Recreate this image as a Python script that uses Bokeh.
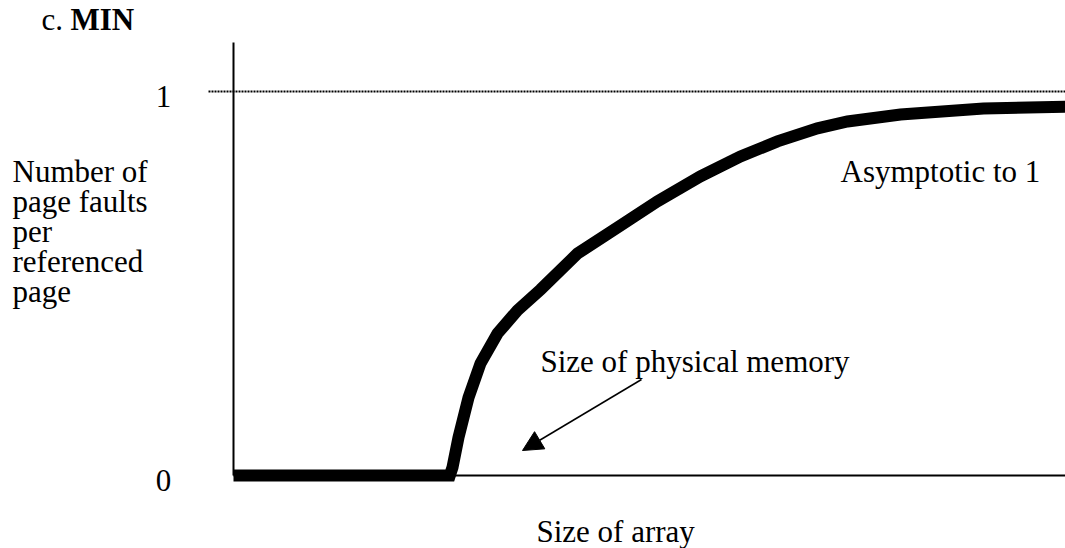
from bokeh.plotting import figure
from bokeh.models import Label, Arrow, NormalHead, Range1d
from bokeh.embed import file_html
from bokeh.resources import INLINE

# ---- data (arbitrary units: array size vs page faults per referenced page) ----
array_size = [0, 26.0, 26.32, 27.04, 28.25, 29.69, 31.73, 34.13, 36.90, 41.35,
              46.15, 50.96, 56.13, 60.94, 65.38, 70.19, 73.80, 80.17, 90.14, 100.0]
faults = [0, 0, 0.021, 0.099, 0.203, 0.292, 0.370, 0.430, 0.484, 0.578,
          0.646, 0.714, 0.779, 0.831, 0.870, 0.904, 0.922, 0.940, 0.956, 0.960]
physical_memory = 26.0
y_ticks = [0, 1]
y_tick_labels = ["0", "1"]
title_prefix = "c. "
title_bold = "MIN"
y_label_lines = ["Number of", "page faults", "per", "referenced", "page"]
x_label = "Size of array"
asym_text = "Asymptotic to 1"
mem_text = "Size of physical memory"

# ---- layout (figure pixels, origin top-left) ----
W, H = 1065, 548
PX_X = 8.32      # pixels per x unit
PX_Y = 384.0     # pixels per y unit
X0_PIX = 233     # pixel of x = 0
Y0_PIX = 475     # pixel of y = 0 (from top)

def dx(px):
    return (px - X0_PIX) / PX_X

def dy(py):
    return (Y0_PIX - py) / PX_Y

def ty(center):
    # text anchor so the rendered text is centred on the given pixel row
    return dy(center - 1)

p = figure(width=W, height=H, output_backend="svg", toolbar_location=None,
           min_border=0, x_axis_type=None, y_axis_type=None)
p.x_range = Range1d(-X0_PIX / PX_X, (W - X0_PIX) / PX_X)
p.y_range = Range1d(-(H - Y0_PIX) / PX_Y, Y0_PIX / PX_Y)
p.outline_line_color = None
p.grid.visible = False
p.background_fill_color = "white"
p.border_fill_color = "white"

FONT = "Liberation Serif"
FS = "31px"

# dotted asymptote at y = 1
p.segment(x0=[dx(208)], y0=[1], x1=[p.x_range.end], y1=[1],
          line_color="black", line_width=1.8, line_dash="2 1")

# axes lines
p.segment(x0=[0], y0=[0], x1=[0], y1=[dy(42)], line_color="black", line_width=2)
p.segment(x0=[0], y0=[0], x1=[p.x_range.end], y1=[0], line_color="black", line_width=2)

# curve
p.line(array_size, faults, line_color="black", line_width=12,
       line_join="miter", line_cap="butt")

# tick labels
p.text(x=[dx(163)] * len(y_ticks), y=y_ticks, text=y_tick_labels,
       text_font="Liberation Serif", text_font_size=FS, text_align="center",
       text_baseline="alphabetic", y_offset=[5, 5], text_color="black")

def lab(txt, px, center, bold=False):
    p.add_layout(Label(x=dx(px), y=ty(center), text=txt, text_font=FONT,
                       text_font_size=FS, text_color="black", text_align="left",
                       text_baseline="alphabetic",
                       text_font_style="bold" if bold else "normal"))

lab(title_prefix, 41, 20)
lab(title_bold, 70, 20, bold=True)
for i, line in enumerate(y_label_lines):
    lab(line, 12, 172 + i * 30)
lab(asym_text, 840, 172)
lab(mem_text, 540, 362)
lab(x_label, 536, 532)

# arrow pointing at the physical-memory knee
p.add_layout(Arrow(end=NormalHead(size=20, fill_color="black", line_color="black"),
                   x_start=dx(641), y_start=dy(379), x_end=dx(522), y_end=dy(450),
                   line_color="black", line_width=1.5))

open("out.html", "w").write(file_html(p, INLINE))
